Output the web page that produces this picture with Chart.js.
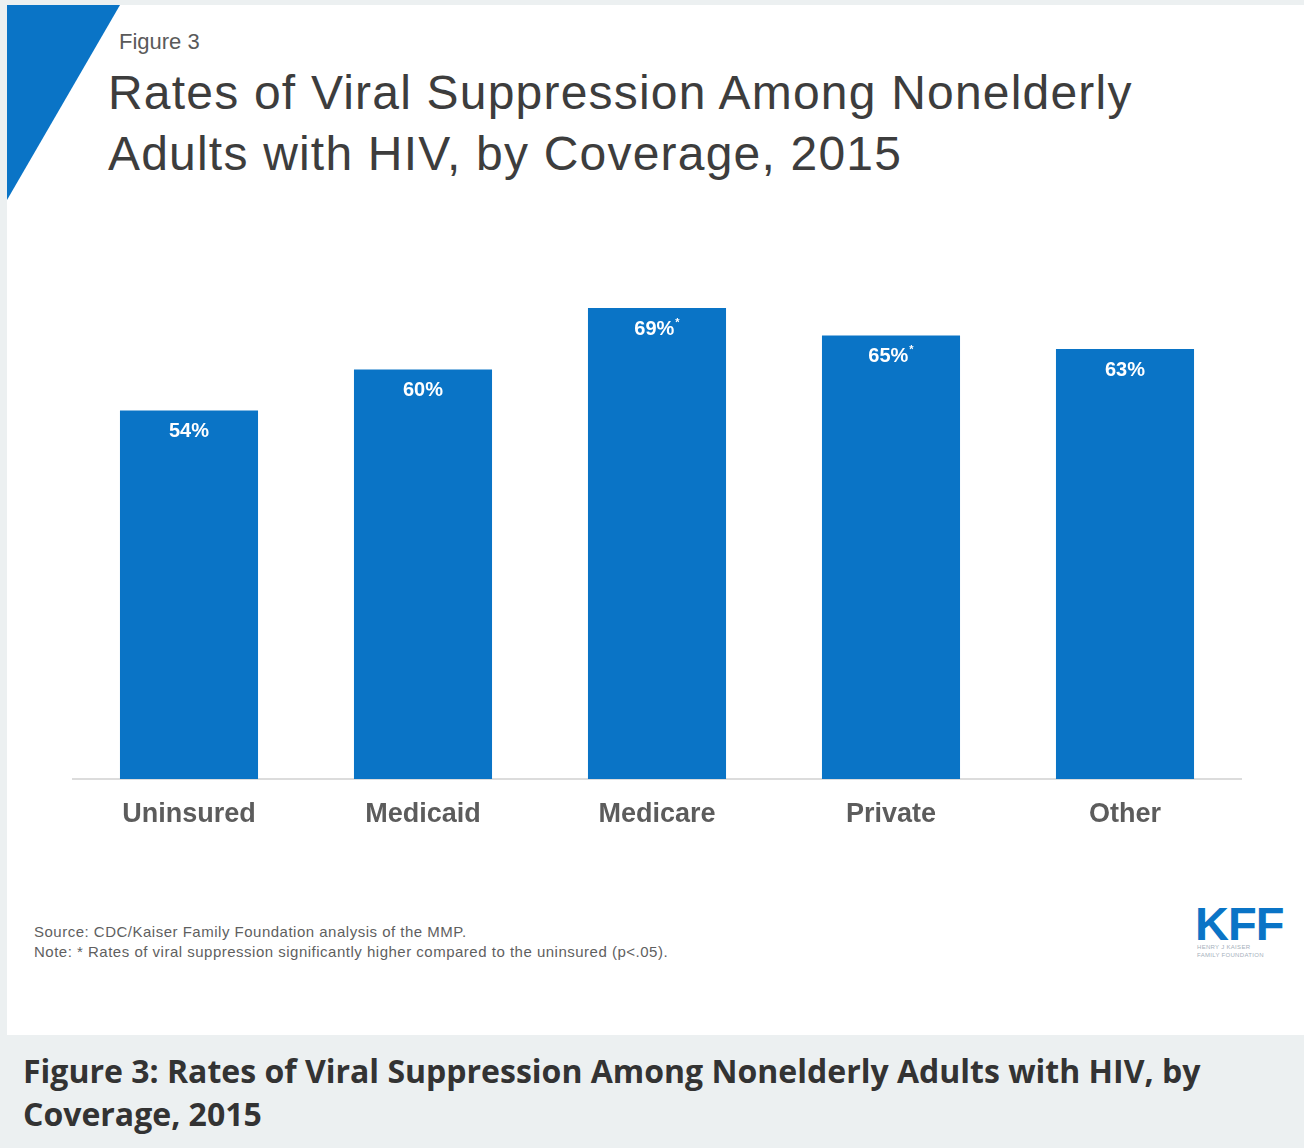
<!DOCTYPE html>
<html>
<head>
<meta charset="utf-8">
<script src="https://cdn.jsdelivr.net/npm/chart.js@4"></script>
<style>
  html, body { margin:0; padding:0; width:1304px; height:1148px; overflow:hidden; background:#ecf0f1; }
  #panel { position:absolute; left:7px; top:5px; width:1297px; height:1030px; background:#fff; overflow:hidden; }
  #tri { position:absolute; left:0; top:0; width:0; height:0; border-top:195px solid #0a74c6; border-right:113px solid transparent; }
  .t { position:absolute; white-space:nowrap; font-family:"Liberation Sans", Arial, sans-serif; }
  #fig { left:112px; top:24px; font-size:22px; color:#5a5a5a; }
  #title { left:101px; top:57px; font-size:48px; line-height:61px; color:#3d3d3d; letter-spacing:1.2px; }
  #notes { left:27px; top:917px; font-size:15px; line-height:20px; color:#5f5f5f; letter-spacing:0.5px; }
  #kff { left:1188px; top:891px; font-size:47px; font-weight:bold; color:#0a74c6; font-family:"Liberation Sans Narrow","Liberation Sans",Arial,sans-serif; letter-spacing:-1px; }
  #kffsub { left:1190px; top:938px; font-size:6px; line-height:8px; color:#a6b0bb; letter-spacing:0.3px; }
  #caption { position:absolute; left:23px; top:1049px; font-family:"Open Sans", sans-serif; font-weight:bold; font-size:32px; line-height:43px; color:#333; letter-spacing:0px; }
  #wrap { position:absolute; left:72px; top:233px; width:1170px; height:606px; }
</style>
</head>
<body>
<div id="panel">
  <div id="tri"></div>
  <div class="t" id="fig">Figure 3</div>
  <div class="t" id="title">Rates of Viral Suppression Among Nonelderly<br>Adults with HIV, by Coverage, 2015</div>
  <div class="t" id="notes">Source: CDC/Kaiser Family Foundation analysis of the MMP.<br>Note: * Rates of viral suppression significantly higher compared to the uninsured (p&lt;.05).</div>
  <div class="t" id="kff">KFF</div>
  <div class="t" id="kffsub">HENRY J KAISER<br>FAMILY FOUNDATION</div>
</div>
<div id="caption">Figure 3: Rates of Viral Suppression Among Nonelderly Adults with HIV, by<br>Coverage, 2015</div>
<div id="wrap"><canvas id="c"></canvas></div>
<script>
const categories = ["Uninsured", "Medicaid", "Medicare", "Private", "Other"];
const values = [54, 60, 69, 65, 63];
const significant = [false, false, true, true, false];

const labelPlugin = {
  id: 'valueLabels',
  afterDatasetsDraw(chart) {
    const ctx = chart.ctx;
    const meta = chart.getDatasetMeta(0);
    ctx.save();
    ctx.fillStyle = '#ffffff';
    ctx.textBaseline = 'middle';
    ctx.textAlign = 'left';
    meta.data.forEach((bar, i) => {
      const txt = values[i] + '%';
      const mainFont = 'bold 20px "Liberation Sans", Arial, sans-serif';
      const supFont = 'bold 11px "Liberation Sans", Arial, sans-serif';
      ctx.font = mainFont;
      const w = ctx.measureText(txt).width;
      let sw = 0;
      if (significant[i]) { ctx.font = supFont; sw = ctx.measureText('*').width + 1; }
      const x0 = bar.x - (w + sw) / 2;
      const y = bar.y + 21;
      ctx.font = mainFont;
      ctx.fillText(txt, x0, y);
      if (significant[i]) {
        ctx.font = supFont;
        ctx.fillText('*', x0 + w + 1, y - 6);
      }
    });
    ctx.restore();
  }
};

new Chart(document.getElementById('c'), {
  type: 'bar',
  data: {
    labels: categories,
    datasets: [{ data: values, backgroundColor: '#0a74c6', borderWidth: 0, categoryPercentage: 1, barPercentage: 0.59 }]
  },
  options: {
    responsive: true,
    maintainAspectRatio: false,
    animation: false,
    layout: { padding: 0 },
    plugins: { legend: { display: false }, tooltip: { enabled: false } },
    scales: {
      y: { display: false, min: 0, max: 80 },
      x: {
        grid: { display: false, drawTicks: false },
        border: { display: true, color: '#dcdcdc', width: 2 },
        ticks: { color: '#5c5c5c', font: { family: '"Liberation Sans", Arial, sans-serif', size: 27, weight: 'bold' }, padding: 19 },
        afterFit(scale) { scale.height = 60; }
      }
    }
  },
  plugins: [labelPlugin]
});
</script>
</body>
</html>
